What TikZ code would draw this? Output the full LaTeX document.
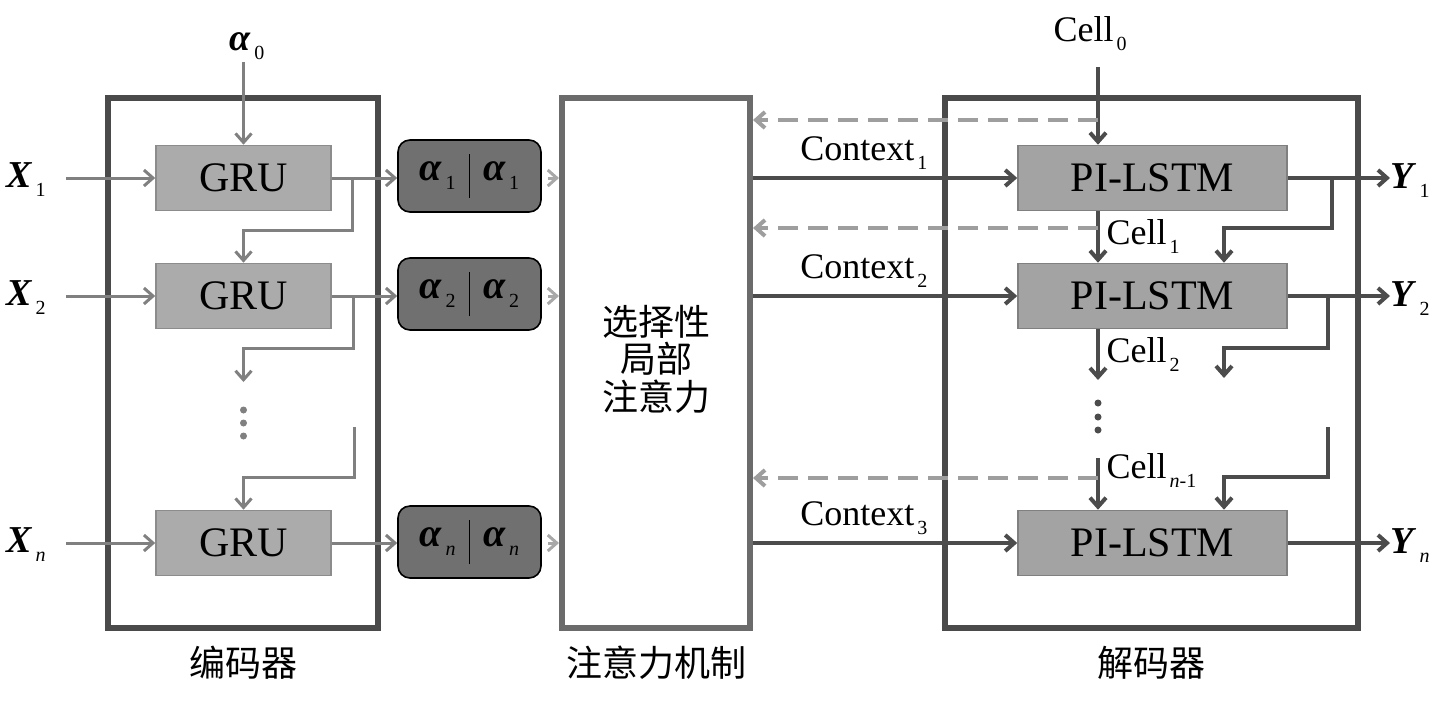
\documentclass[tikz,border=0pt]{standalone}
\usepackage{fontspec}
\setmainfont{Liberation Serif}
\newfontfamily\cjk{Noto Sans CJK SC}
\usetikzlibrary{shapes,arrows.meta}
\definecolor{framec}{gray}{0.29}
\definecolor{attc}{gray}{0.42}
\definecolor{grufill}{gray}{0.67}
\definecolor{grudraw}{gray}{0.55}
\definecolor{lstmfill}{gray}{0.64}
\definecolor{lstmdraw}{gray}{0.5}
\definecolor{afill}{gray}{0.44}
\definecolor{encc}{gray}{0.5}
\definecolor{decc}{gray}{0.3}
\definecolor{fbc}{gray}{0.62}
\definecolor{linkc}{gray}{0.66}
\newcommand\bvar[1]{\textbf{\textit{#1}}}
\newcommand\sbs[1]{\kern1.5pt\raisebox{-4.5pt}{\fontsize{10}{10}\selectfont #1}}

\begin{document}
\begin{tikzpicture}[x=0.5pt, y=-0.5pt, >={Straight Barb[length=4.5pt,width=8pt]},
  frame/.style    = {draw=framec, line width=3pt, minimum width=135pt, minimum height=265pt},
  attframe/.style = {draw=attc, line width=3pt, minimum width=94pt, minimum height=265pt,
                     font=\cjk\fontsize{18}{18}\selectfont, align=center},
  grubox/.style   = {draw=grudraw, fill=grufill, line width=0.8pt, minimum width=87.5pt,
                     minimum height=32.5pt, font=\fontsize{21}{21}\selectfont},
  lstmbox/.style  = {draw=lstmdraw, fill=lstmfill, line width=0.8pt, minimum width=134.5pt,
                     minimum height=32.5pt, font=\fontsize{21}{21}\selectfont},
  abox/.style     = {draw=black, fill=afill, line width=0.8pt, rounded corners=6pt,
                     minimum width=71.5pt, minimum height=36pt, inner sep=0pt,
                     font=\fontsize{20}{20}\selectfont},
  txt/.style      = {text=black, font=\fontsize{18}{18}\selectfont},
  var/.style      = {font=\fontsize{19}{19}\selectfont, inner sep=1pt},
  cjklabel/.style = {font=\cjk\fontsize{18}{18}\selectfont},
  enc/.style      = {encc, line width=1.5pt},
  dec/.style      = {decc, line width=2pt},
  link/.style     = {linkc, line width=1.5pt},
  fb/.style       = {fbc, line width=2pt, dash pattern=on 10pt off 5pt}]

\useasboundingbox (0,0) rectangle (1429,703);

% frames
\node[frame]    (encoder)   at (243,363)    {};
\node[attframe] (attention) at (656,363)    {\raisebox{10pt}{\begin{tabular}{@{}c@{}}选择性\\[-2pt]局部\\[-2pt]注意力\end{tabular}}};
\node[frame, minimum width=206.5pt] (decoder) at (1151.5,363) {};

\node[cjklabel] (enclabel) [below of = encoder,   node distance=150pt] {编码器};
\node[cjklabel] (attlabel) [below of = attention, node distance=150pt] {注意力机制};
\node[cjklabel] (declabel) [below of = decoder,   node distance=150pt] {解码器};

% encoder
\node[grubox] (gru1) at (243.5,178) {GRU};
\node[grubox] (gru2) [below of = gru1, node distance=59pt] {GRU};
\node[grubox] (gru3) at (243.5,543) {GRU};

\node[var] (a0) at (247,46) {\bvar{α}\sbs{0}};
\node[var, anchor=east] (x1) at (48,180) {\bvar{X}\sbs{1}};
\node[var, anchor=east] (x2) at (48,298) {\bvar{X}\sbs{2}};
\node[var, anchor=east] (xn) at (48,545) {\bvar{X}\sbs{\textit{n}}};

\node[abox] (a1) at (469.5,176) {\bvar{α}\sbs{1}\hspace{14pt}\bvar{α}\sbs{1}};
\node[abox] (a2) at (469.5,294) {\bvar{α}\sbs{2}\hspace{14pt}\bvar{α}\sbs{2}};
\node[abox] (an) at (469.5,542) {\bvar{α}\sbs{\textit{n}}\hspace{14pt}\bvar{α}\sbs{\textit{n}}};
\foreach \a in {a1,a2,an}
  \draw[black, line width=0.8pt] (\a.center) ++(0,-22) -- ++(0,44);

\coordinate (e2) at (243.5,382);
\coordinate (e3) at (354,427);

\draw[->, enc] (a0.south -| gru1.north) -- (gru1.north);
\path[->, enc, shorten <=9pt]
  (x1.east |- gru1) edge (gru1.west)
  (x2.east |- gru2) edge (gru2.west)
  (xn.east |- gru3) edge (gru3.west);
\draw[->, enc] (gru1.east) -- (gru1.east -| a1.west);
\draw[->, enc] (gru2.east) -- (gru2.east -| a2.west);
\draw[->, enc] (gru3.east) -- (gru3.east -| an.west);
\draw[->, enc] ([xshift=10.5pt]gru1.east) -- ++(0,52) -| (gru2.north);
\draw[->, enc] ([xshift=11pt]gru2.east) -- ++(0,52) -| (e2);
\draw[->, enc] (e3) -- ++(0,50) -| (gru3.north);
\foreach \y in {410,423,436}
  \fill[encc] (243.5,\y) circle (3.5);

\path[->, link, shorten <=3pt]
  (a1.east |- gru1) edge (attention.west |- gru1)
  (a2.east |- gru2) edge (attention.west |- gru2)
  (an.east |- gru3) edge (attention.west |- gru3);

% decoder
\node[lstmbox] (l1) at (1152.5,178) {PI-LSTM};
\node[lstmbox] (l2) [below of = l1, node distance=59pt] {PI-LSTM};
\node[lstmbox] (l3) at (1152.5,543) {PI-LSTM};

\node[txt] (c0) at (1090,34) {Cell\sbs{0}};
\node[var, anchor=west, inner sep=0pt] (y1) at (1390,181) {\bvar{Y}\sbs{1}};
\node[var, anchor=west, inner sep=0pt] (y2) at (1390,299) {\bvar{Y}\sbs{2}};
\node[var, anchor=west, inner sep=0pt] (yn) at (1390,546) {\bvar{Y}\sbs{\textit{n}}};

\coordinate (k0) at (1098,67);
\coordinate (k2) at (1098,380);
\coordinate (kn) at (1098,458);
\draw[->, dec] (k0) -- (k0 |- l1.north);
\draw[->, dec] (k0 |- l1.south) -- node[right, txt] {Cell\sbs{1}} (k0 |- l2.north);
\draw[->, dec] (k0 |- l2.south) -- node[right, txt] {Cell\sbs{2}} (k2);
\draw[->, dec] (kn) -- node[right, txt, pos=0.25] {Cell\sbs{\textit{n}-1}} (kn |- l3.north);
\foreach \y in {403,417,430}
  \fill[decc] (1098,\y) circle (3.5);

\coordinate (f1) at (1098,120);
\coordinate (f2) at (1098,228);
\coordinate (f3) at (1098,478);
\foreach \f in {f1,f2,f3}
  \draw[->, fb] (\f) -- (\f -| attention.east);

\path[->, dec]
  (attention.east |- l1) edge node[above, txt, pos=0.42] {Context\sbs{1}} (l1.west)
  (attention.east |- l2) edge node[above, txt, pos=0.42] {Context\sbs{2}} (l2.west)
  (attention.east |- l3) edge node[above, txt, pos=0.42] {Context\sbs{3}} (l3.west);

\draw[->, dec] (l1.east) -- (l1.east -| y1.west);
\draw[->, dec] (l2.east) -- (l2.east -| y2.west);
\draw[->, dec] (l3.east) -- (l3.east -| yn.west);

\coordinate (b1) at (1332,178);
\coordinate (m1) at (1224,228);
\coordinate (b2) at (1328,296);
\coordinate (m2) at (1224,348);
\coordinate (b3) at (1328,427);
\coordinate (m3) at (1224,477);
\draw[->, dec] (b1) |- (m1) -- (m1 |- l2.north);
\draw[->, dec] (b2) |- (m2) -- ++(0,30);
\draw[->, dec] (b3) |- (m3) -- (m3 |- l3.north);
\end{tikzpicture}
\end{document}
